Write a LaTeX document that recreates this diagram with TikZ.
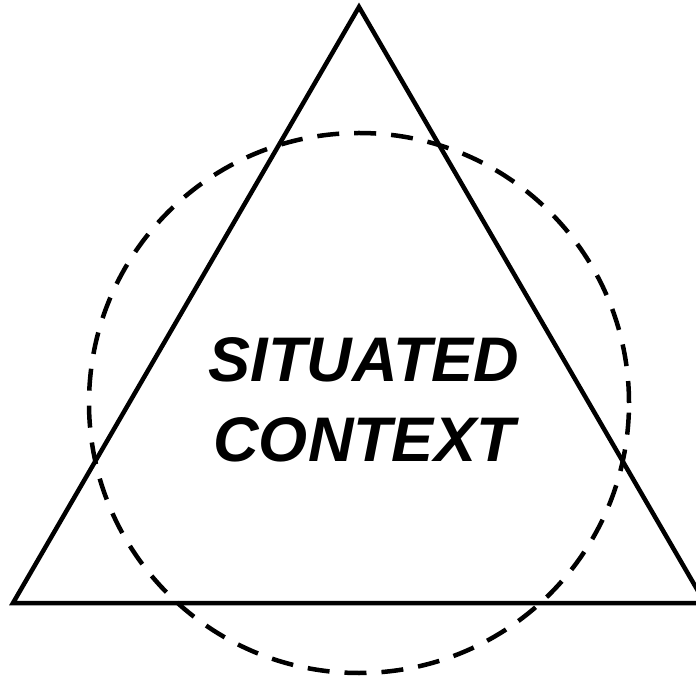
\documentclass[tikz,border=0pt]{standalone}
\usepackage{fontspec}
\setmainfont{Liberation Sans}
\begin{document}
\begin{tikzpicture}[x=1pt,y=1pt,
  tri/.style={line width=4.5pt},
  ring/.style={line width=4.5pt, dash pattern=on 22pt off 15pt},
  label/.style={font=\fontsize{63}{80}\selectfont\bfseries\itshape, align=center, inner sep=0pt}]
\useasboundingbox (0,0) rectangle (696,678);
\coordinate (apex) at (359,671);
\coordinate (bl) at (13,75);
\coordinate (br) at (705,75);
\coordinate (c) at (359,275);
\draw[tri] (bl) -- (apex) -- (br) -- cycle;
\draw[ring] (c) circle[radius=270];
\node[label] (t) at (364,278) {SITUATED\\CONTEXT};
\end{tikzpicture}
\end{document}
